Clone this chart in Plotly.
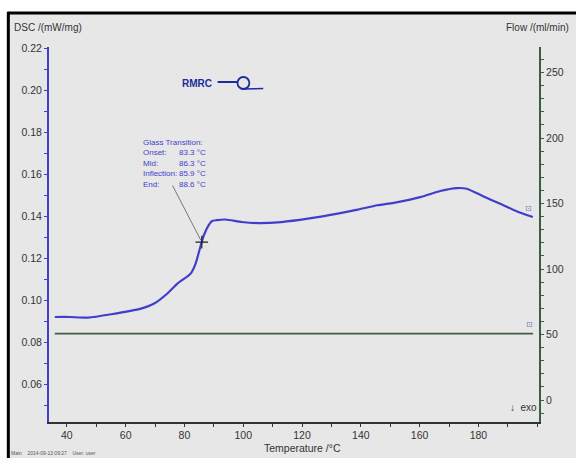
import numpy as np
import plotly.graph_objects as go

# DSC heating curve (temperature in °C, heat flow in mW/mg)
temperature = [35.9, 41.0, 47.2, 55.1, 65.2, 69.7, 74.2, 77.6, 82.1, 83.8, 85.4, 86.6,
               88.2, 89.4, 91.0, 93.9, 99.5, 105.1, 113.0, 122.0, 132.1, 138.9, 145.6,
               151.2, 160.2, 167.0, 172.6, 176.0, 181.6, 187.2, 192.8, 198.5]
dsc = [0.0920, 0.0920, 0.0917, 0.0933, 0.0960, 0.0984, 0.1032, 0.1079, 0.1127, 0.1175,
       0.1254, 0.1310, 0.1357, 0.1378, 0.1382, 0.1385, 0.1373, 0.1368, 0.1373, 0.1389,
       0.1413, 0.1432, 0.1453, 0.1464, 0.1492, 0.1521, 0.1535, 0.1532, 0.1496, 0.1461,
       0.1426, 0.1397]

# purge gas flow (ml/min)
flow_temperature = [35.9, 198.6]
flow = [50.7, 50.7]

# glass transition evaluation
gt_labels = ["Onset:", "Mid:", "Inflection:", "End:"]
gt_values = [83.3, 86.3, 85.9, 88.6]

x_ticks = [40, 60, 80, 100, 120, 140, 160, 180]
y_ticks = [0.06, 0.08, 0.10, 0.12, 0.14, 0.16, 0.18, 0.20, 0.22]
y2_ticks = [0, 50, 100, 150, 200, 250]

W, H = 576, 458
L, R, T, B = 49, 33, 47, 36
PW, PH = W - L - R, H - T - B


def px(x):
    return (x - L) / PW


def py(y):
    return (H - B - y) / PH


FONT = "Liberation Sans, Arial, sans-serif"
BLUE = "#3f3fcc"
GREEN = "#3c5f44"
TXT = "#333333"
LOGO = "#1c2c9c"

fig = go.Figure()

fig.add_trace(go.Scatter(x=temperature, y=dsc, mode="lines",
                         line=dict(color=BLUE, width=2.2, shape="spline", smoothing=0.6),
                         hoverinfo="skip", showlegend=False))
fig.add_trace(go.Scatter(x=flow_temperature, y=flow, mode="lines", yaxis="y2",
                         line=dict(color=GREEN, width=1.6),
                         hoverinfo="skip", showlegend=False))

# crosshair at the inflection point
t_inf = gt_values[2]
d_inf = float(np.interp(t_inf, temperature, dsc))
fig.add_trace(go.Scatter(x=[t_inf], y=[d_inf], mode="markers",
                         marker=dict(symbol="cross-thin-open", size=9, color="#222222",
                                     line=dict(color="#222222", width=1.2)),
                         hoverinfo="skip", showlegend=False))

axis_common = dict(showgrid=False, zeroline=False, ticks="outside", ticklen=3,
                   tickfont=dict(family=FONT, size=10.5, color=TXT))

fig.update_layout(
    width=W, height=H,
    margin=dict(l=L, r=R, t=T, b=B),
    paper_bgcolor="white",
    plot_bgcolor="rgba(0,0,0,0)",
    xaxis=dict(range=[33.93, 200.6], tickvals=x_ticks, showline=True,
               linecolor="#333333", linewidth=1.5, tickcolor="#333333",
               ticklabelstandoff=0,
               minor=dict(dtick=10, ticks="outside", ticklen=3, tickcolor="#333333"),
               **axis_common),
    yaxis=dict(range=[0.0419, 0.2208], tickvals=y_ticks, tickformat=".2f",
               showline=True, linecolor=BLUE, linewidth=2, tickcolor=BLUE,
               minor=dict(dtick=0.01, ticks="outside", ticklen=3, tickcolor=BLUE),
               **axis_common),
    yaxis2=dict(range=[-16.8, 269.5], tickvals=y2_ticks, overlaying="y", side="right",
                showline=True, linecolor=GREEN, linewidth=2, tickcolor=GREEN,
                minor=dict(dtick=10, ticks="outside", ticklen=3, tickcolor=GREEN),
                **axis_common),
)

shapes = [
    # panel background and frame
    dict(type="rect", xref="paper", yref="paper", x0=px(8), x1=px(W + 5),
         y0=py(H + 5), y1=py(13), fillcolor="#e7e7e7", line=dict(width=0), layer="below"),
    dict(type="line", xref="paper", yref="paper", x0=px(7), x1=px(W + 5),
         y0=py(13), y1=py(13), line=dict(color="black", width=3)),
    dict(type="line", xref="paper", yref="paper", x0=px(8), x1=px(8),
         y0=py(12), y1=py(H + 5), line=dict(color="black", width=3)),
    # logo emblem
    dict(type="line", xref="paper", yref="paper", x0=px(219), x1=px(239),
         y0=py(82), y1=py(82), line=dict(color=LOGO, width=2)),
    dict(type="circle", xref="paper", yref="paper", x0=px(239), x1=px(251),
         y0=py(89), y1=py(77), line=dict(color=LOGO, width=1.8)),
    dict(type="line", xref="paper", yref="paper", x0=px(243), x1=px(265),
         y0=py(89), y1=py(88.5), line=dict(color=LOGO, width=1.5)),
]
fig.update_layout(shapes=shapes)

ann = [
    dict(text="DSC /(mW/mg)", x=px(12), y=py(27), xanchor="left", yanchor="middle",
         font=dict(family=FONT, size=10, color=TXT)),
    dict(text="Flow /(ml/min)", x=px(575), y=py(27), xanchor="right", yanchor="middle",
         font=dict(family=FONT, size=10, color=TXT)),
    dict(text="Temperature /°C", x=px(305), y=py(448), xanchor="center", yanchor="middle",
         font=dict(family=FONT, size=10.5, color=TXT)),
    dict(text="↓  exo", x=px(512), y=py(407), xanchor="left", yanchor="middle",
         font=dict(family=FONT, size=10, color=TXT)),
    dict(text="Main    2014-09-13 09:27    User: user", x=px(9), y=py(453),
         xanchor="left", yanchor="middle", font=dict(family=FONT, size=5, color="#555555")),
    dict(text="<b>RMRC</b>", x=px(181), y=py(83), xanchor="left", yanchor="middle",
         font=dict(family=FONT, size=10, color=LOGO)),
    dict(text="Glass Transition:<br>" + "<br>".join(gt_labels),
         x=px(142), y=py(136), xanchor="left", yanchor="top", align="left",
         font=dict(family=FONT, size=8, color=BLUE)),
    dict(text="&nbsp;<br>" + "<br>".join(f"{v:.1f} °C" for v in gt_values),
         x=px(178), y=py(136), xanchor="left", yanchor="top", align="left",
         font=dict(family=FONT, size=8, color=BLUE)),
]
for a in ann:
    a.update(xref="paper", yref="paper", showarrow=False)

# leader line from the evaluation box to the inflection point
ann.append(dict(x=t_inf, y=d_inf, xref="x", yref="y", text="", showarrow=True,
                arrowhead=0, arrowwidth=1, arrowcolor="#777777", ax=-30, ay=-58,
                standoff=2))
# curve end markers
ann.append(dict(x=temperature[-1], y=dsc[-1], xref="x", yref="y", text="⊡",
                showarrow=False, xshift=-4, yshift=9,
                font=dict(family="DejaVu Sans", size=8, color="#7777cc")))
ann.append(dict(x=flow_temperature[-1], y=flow[-1], xref="x", yref="y2", text="⊡",
                showarrow=False, xshift=-4, yshift=9,
                font=dict(family="DejaVu Sans", size=8, color="#7777aa")))
fig.update_layout(annotations=ann)

fig.write_html("out.html")
